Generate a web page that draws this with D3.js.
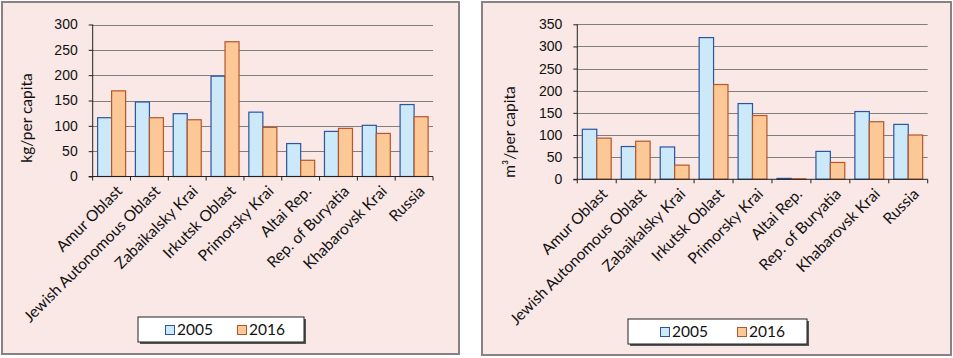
<!DOCTYPE html>
<html>
<head>
<meta charset="utf-8">
<script src="https://cdn.jsdelivr.net/npm/d3@7"></script>
<style>
  body { margin: 0; background: #fff; }
  svg { display: block; font-family: Lato, "Open Sans", sans-serif; }
</style>
</head>
<body>
<div id="chart"></div>
<script>
const categories = ["Amur Oblast", "Jewish Autonomous Oblast", "Zabaikalsky Krai", "Irkutsk Oblast", "Primorsky Krai", "Altai Rep.", "Rep. of Buryatia", "Khabarovsk Krai", "Russia"];
const years = ["2005", "2016"];

// left chart: kg per capita
const waste2005 = [116, 147, 124, 198, 127, 65, 89, 101, 142];
const waste2016 = [169, 116, 112, 266, 97, 32, 95, 85, 118];
const wasteTicks = [0, 50, 100, 150, 200, 250, 300];

// right chart: m3 per capita
const water2005 = [113, 74, 73, 320, 171, 2, 63, 153, 124];
const water2016 = [93, 86, 32, 214, 144, 1, 38, 130, 100];
const waterTicks = [0, 50, 100, 150, 200, 250, 300, 350];

const fills = ["#cce9fa", "#fcc896"];
const strokes = ["#2a55a0", "#b5562c"];

const svg = d3.select("#chart").append("svg")
  .attr("width", 953)
  .attr("height", 358);

function drawChart(p) {
  const g = svg.append("g");

  g.append("rect")
    .attr("x", p.box[0]).attr("y", p.box[1])
    .attr("width", p.box[2]).attr("height", p.box[3])
    .attr("fill", "#f9e8e5")
    .attr("stroke", "#8a8282")
    .attr("stroke-width", 2);

  const x = d3.scaleBand()
    .domain(categories)
    .range([p.left, p.right]);

  const xInner = d3.scaleBand()
    .domain(years)
    .range([0, x.bandwidth()])
    .paddingInner(0)
    .paddingOuter(0.35);

  const y = d3.scaleLinear()
    .domain([0, d3.max(p.ticks)])
    .range([p.bottom, p.top]);

  // gridlines
  g.append("g")
    .selectAll("line")
    .data(p.ticks.slice(1))
    .join("line")
    .attr("x1", p.left).attr("x2", p.right)
    .attr("y1", function(d) { return Math.round(y(d)) + 0.5; })
    .attr("y2", function(d) { return Math.round(y(d)) + 0.5; })
    .attr("stroke", "#7f7f7f")
    .attr("stroke-width", 1);

  const rows = categories.map(function(c, i) {
    return {cat: c, values: [p.s1[i], p.s2[i]]};
  });

  g.append("g")
    .selectAll("g")
    .data(rows)
    .join("g")
    .attr("transform", function(d) { return "translate(" + x(d.cat) + ",0)"; })
    .selectAll("rect")
    .data(function(d) { return d.values.map(function(v, j) { return {year: years[j], v: v, j: j}; }); })
    .join("rect")
    .attr("x", function(d) { return xInner(d.year); })
    .attr("width", xInner.bandwidth())
    .attr("y", function(d) { return y(d.v); })
    .attr("height", function(d) { return p.bottom - y(d.v); })
    .attr("fill", function(d) { return fills[d.j]; })
    .attr("stroke", function(d) { return strokes[d.j]; })
    .attr("stroke-width", 1.2);

  // y axis
  g.append("g")
    .attr("transform", "translate(" + p.left + ",0)")
    .call(d3.axisLeft(y).tickValues(p.ticks).tickSize(4).tickPadding(11).tickFormat(d3.format("d")))
    .call(function(a) { a.select(".domain").attr("stroke", "#222").attr("d", "M0," + p.bottom + "V" + p.top); })
    .call(function(a) { a.selectAll(".tick line").attr("stroke", "#222"); })
    .selectAll("text")
    .style("font-size", "14px")
    .style("fill", "#111");

  // x axis, ticks between categories
  const xa = g.append("g")
    .attr("transform", "translate(0," + p.bottom + ")");
  xa.append("line")
    .attr("x1", p.left - 4).attr("x2", p.right)
    .attr("stroke", "#222");
  xa.selectAll("line.tk")
    .data(categories.concat(["end"]))
    .join("line")
    .attr("class", "tk")
    .attr("x1", function(d, i) { return p.left + i * x.step(); })
    .attr("x2", function(d, i) { return p.left + i * x.step(); })
    .attr("y1", 0).attr("y2", 4)
    .attr("stroke", "#222");
  xa.selectAll("text")
    .data(categories)
    .join("text")
    .attr("transform", function(d) { return "translate(" + (x(d) + x.bandwidth() / 2 + 4) + ",8)rotate(-45)"; })
    .attr("text-anchor", "end")
    .attr("dy", "0.7em")
    .style("font-size", "15.5px")
    .style("fill", "#111")
    .text(function(d) { return d; });

  // axis title
  g.append("text")
    .attr("transform", "translate(" + p.titleX + "," + p.titleY + ")rotate(-90)")
    .attr("text-anchor", "middle")
    .style("font-size", "15.5px")
    .style("fill", "#111")
    .text(p.title);

  // legend
  const lg = g.append("g").attr("transform", "translate(" + p.legend[0] + "," + p.legend[1] + ")");
  lg.append("rect")
    .attr("x", 2).attr("y", 2)
    .attr("width", p.legend[2]).attr("height", 25)
    .attr("fill", "#555");
  lg.append("rect")
    .attr("x", 0).attr("y", 0)
    .attr("width", p.legend[2]).attr("height", 25)
    .attr("fill", "#fff")
    .attr("stroke", "#222");
  const item = lg.selectAll("g.item")
    .data(years)
    .join("g")
    .attr("class", "item")
    .attr("transform", function(d, i) { return "translate(" + p.legendItems[i] + ",0)"; });
  item.append("rect")
    .attr("x", 0.5).attr("y", 8.5)
    .attr("width", 9).attr("height", 9)
    .attr("fill", function(d, i) { return fills[i]; })
    .attr("stroke", function(d, i) { return strokes[i]; });
  item.append("text")
    .attr("x", 12).attr("y", 18)
    .style("font-size", "15.5px")
    .style("fill", "#111")
    .text(function(d) { return d; });
}

drawChart({
  box: [2, 2, 457, 352],
  left: 92.7, right: 433, top: 24.5, bottom: 176.5,
  ticks: wasteTicks, s1: waste2005, s2: waste2016,
  title: "kg/per capita", titleX: 32, titleY: 118,
  legend: [138, 317, 166], legendItems: [27, 99]
});

drawChart({
  box: [482, 2, 469, 353],
  left: 577.3, right: 927.7, top: 24.3, bottom: 179.3,
  ticks: waterTicks, s1: water2005, s2: water2016,
  title: "m³/per capita", titleX: 515, titleY: 132,
  legend: [628, 319, 179], legendItems: [32, 109]
});
</script>
</body>
</html>
